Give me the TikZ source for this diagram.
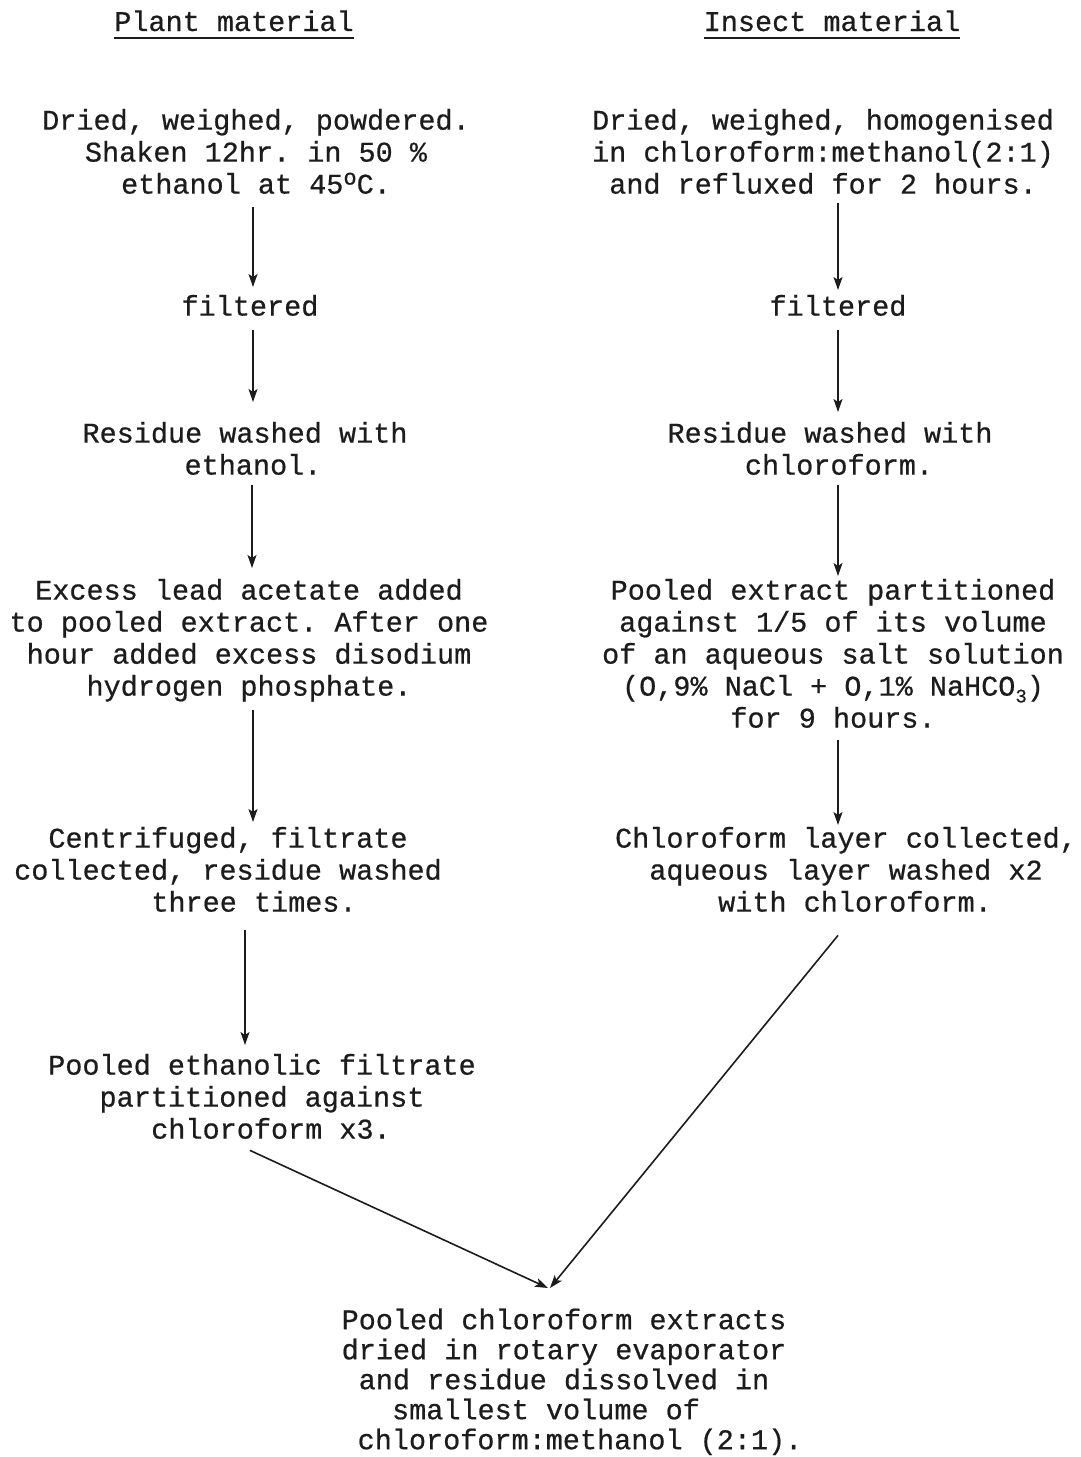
\documentclass[tikz,border=0pt]{standalone}
\usepackage{fontspec}
\setmonofont{Liberation Mono}
\usetikzlibrary{arrows.meta}
\definecolor{ink}{RGB}{28,28,28}
\newcommand\pad[1]{\makebox[#1pt]{}}
\newcommand\degsup{\raisebox{0.6ex}{\fontsize{22}{22}\selectfont o}}
\newcommand\lowthree{\raisebox{-0.45ex}{\fontsize{19}{19}\selectfont 3}}
\begin{document}
\begin{tikzpicture}[x=1pt,y=-1pt,
  txt/.style={font=\ttfamily\addfontfeature{FakeBold=0.6}\fontsize{28.5}{32}\selectfont, align=center, inner sep=0pt, anchor=north, text=ink},
  head/.style={font=\ttfamily\addfontfeature{FakeBold=0.6}\fontsize{28.5}{32}\selectfont, inner sep=0pt, anchor=base, text=ink},
  uline/.style={line width=2.2pt, draw=ink},
  arr/.style={-{Stealth[length=13pt,width=9pt,inset=3pt]}, line width=1.6pt, draw=ink}]
\useasboundingbox[fill=white] (0,0) rectangle (1080,1457);

% headers
\node[head] (h1) at (234,31) {Plant material};
\node[head] (h2) at (832,31) {Insect material};
\draw[uline] ([yshift=-7pt]h1.base west) -- ([yshift=-7pt]h1.base east);
\draw[uline] ([yshift=-7pt]h2.base west) -- ([yshift=-7pt]h2.base east);

% left column
\node[txt] (l1) at (256,107) {\strut Dried, weighed, powdered.\\Shaken 12hr. in 50 \%\\ethanol at 45\degsup C.\strut};
\node[txt] (lf) at (250,293) {\strut filtered\strut};
\node[txt] (l3) at (245,420) {\strut Residue washed with\\\pad{16}ethanol.\strut};
\node[txt] (l4) at (249,577) {\strut Excess lead acetate added\\to pooled extract. After one\\hour added excess disodium\\hydrogen phosphate.\strut};
\node[txt] (l5) at (228,825) {\strut Centrifuged, filtrate\\collected, residue washed\\\pad{52}three times.\strut};
\node[txt] (l6) at (262,1052) {\strut Pooled ethanolic filtrate\\partitioned against\\\pad{18}chloroform x3.\strut};

% right column
\node[txt] (r1) at (823,107) {\strut Dried, weighed, homogenised\\in chloroform:methanol(2:1)\\and refluxed for 2 hours.\strut};
\node[txt] (rf) at (838,293) {\strut filtered\strut};
\node[txt] (r3) at (830,420) {\strut Residue washed with\\\pad{18}chloroform.\strut};
\node[txt] (r4) at (833,577) {\strut Pooled extract partitioned\\against 1/5 of its volume\\of an aqueous salt solution\\(O,9\% NaCl + O,1\% NaHCO\lowthree)\\for 9 hours.\strut};
\node[txt] (r5) at (846,825) {\strut Chloroform layer collected,\\aqueous layer washed x2\\\pad{18}with chloroform.\strut};

% bottom
\node[txt, font=\ttfamily\addfontfeature{FakeBold=0.6}\fontsize{28.5}{30}\selectfont] (b) at (564,1308) {\strut Pooled chloroform extracts\\dried in rotary evaporator\\and residue dissolved in\\smallest volume of\pad{36}\\\pad{32}chloroform:methanol (2:1).\strut};

% left arrows
\draw[arr,shorten <=4pt,shorten >=6pt] ([xshift=-3pt]l1.south) -- ([xshift=3pt]lf.north);
\draw[arr,shorten <=5pt,shorten >=18pt] ([xshift=3pt]lf.south) -- ([xshift=8pt]l3.north);
\draw[arr,shorten <=1pt,shorten >=9pt] ([xshift=7pt]l3.south) -- ([xshift=3pt]l4.north);
\draw[arr,shorten <=5pt,shorten >=3pt] ([xshift=4pt]l4.south) -- ([xshift=25pt]l5.north);
\draw[arr,shorten <=9pt,shorten >=7pt] ([xshift=17pt]l5.south) -- ([xshift=-17pt]l6.north);
\draw[arr] ([xshift=-12pt,yshift=-2pt]l6.south) -- ([xshift=-16pt,yshift=20pt]b.north);

% right arrows
\draw[arr,shorten >=3pt] ([xshift=15pt]r1.south) -- (rf.north);
\draw[arr,shorten <=5pt,shorten >=8pt] (rf.south) -- ([xshift=8pt]r3.north);
\draw[arr,shorten <=1pt,shorten >=1pt] ([xshift=8pt]r3.south) -- ([xshift=5pt]r4.north);
\draw[arr,shorten <=3pt] ([xshift=5pt]r4.south) -- ([xshift=-8pt]r5.north);
\draw[arr] ([xshift=-8pt,yshift=-14pt]r5.south) -- ([xshift=-14pt,yshift=20pt]b.north);
\end{tikzpicture}
\end{document}
